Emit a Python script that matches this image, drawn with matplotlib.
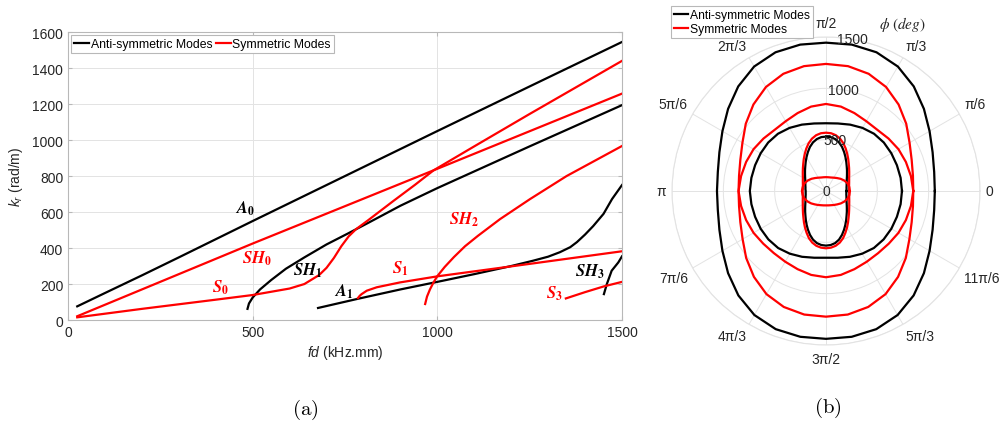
import numpy as np
import matplotlib
matplotlib.use("Agg")
import matplotlib.pyplot as plt
from matplotlib.lines import Line2D

plt.rcParams['font.family'] = ['Liberation Sans', 'DejaVu Sans']
plt.rcParams['mathtext.fontset'] = 'custom'
plt.rcParams['mathtext.rm'] = 'Liberation Sans'
plt.rcParams['mathtext.it'] = 'Liberation Sans:italic'
plt.rcParams['mathtext.bf'] = 'Liberation Sans:bold'

TXT = '#262626'
GRID = '#e3e3e3'
EDGE = '#b8b8b8'

# ---- (a) dispersion curves: fd (kHz.mm) vs k_r (rad/m) ----
a0_fd = [25, 100, 200, 300, 500, 750, 1000, 1250, 1500]
a0_k = [76, 150, 248, 348, 550, 800, 1050, 1298, 1545]

sh0_fd = [25, 500, 990, 1500]
sh0_k = [21, 425, 832, 1258]

s0_fd = [25, 200, 400, 500, 600, 640, 680, 700, 720, 740, 760, 780, 813,
         880, 940, 990, 1100, 1250, 1500]
s0_k = [15, 62, 113, 139, 175, 200, 250, 290, 345, 410, 465, 505, 555,
        660, 752, 832, 965, 1145, 1440]

sh1_fd = [486, 490, 500, 520, 550, 590, 640, 700, 760, 813, 900, 1000, 1250, 1500]
sh1_k = [62, 92, 125, 170, 222, 285, 348, 420, 483, 540, 635, 733, 965, 1194]

a1_fd = [677, 785, 900, 1000, 1100, 1200, 1260, 1300, 1332, 1360, 1378,
         1400, 1422, 1450, 1473, 1500]
a1_k = [67, 118, 170, 212, 255, 300, 330, 352, 377, 405, 433,
        475, 522, 590, 672, 750]

s1_fd = [785, 790, 795, 809, 836, 899, 1001, 1250, 1500]
s1_k = [122, 135, 144, 163, 182, 209, 243, 312, 382]

sh2_fd = [967, 972, 980, 990, 1000, 1020, 1045, 1075, 1110, 1170, 1251, 1350, 1500]
sh2_k = [89, 130, 170, 210, 244, 295, 350, 410, 468, 561, 672, 800, 967]

sh3_fd = [1451, 1459, 1472, 1490, 1500]
sh3_k = [144, 200, 274, 320, 354]

s3_fd = [1348, 1400, 1451, 1500]
s3_k = [120, 155, 187, 212]

# mode labels: (text, fd, k, colour)
mode_labels = [
    (r'$\mathbfit{A}_\mathbf{0}$', 479, 626, 'black'),
    (r'$\mathbfit{SH}_\mathbf{0}$', 511, 344, 'red'),
    (r'$\mathbfit{S}_\mathbf{0}$', 412, 186, 'red'),
    (r'$\mathbfit{SH}_\mathbf{1}$', 648, 279, 'black'),
    (r'$\mathbfit{A}_\mathbf{1}$', 746, 163, 'black'),
    (r'$\mathbfit{S}_\mathbf{1}$', 900, 290, 'red'),
    (r'$\mathbfit{SH}_\mathbf{2}$', 1072, 561, 'red'),
    (r'$\mathbfit{SH}_\mathbf{3}$', 1414, 274, 'black'),
    (r'$\mathbfit{S}_\mathbf{3}$', 1318, 152, 'red'),
]

# ---- (b) polar k_r(phi) ----
# outer curves: phi every 10 deg, 0..350
phi_10 = list(range(0, 360, 10))
outer_black = [1060, 1070, 1105, 1165, 1245, 1330, 1400, 1438, 1448, 1445,
               1448, 1438, 1400, 1330, 1245, 1165, 1105, 1070, 1062,
               1070, 1105, 1165, 1245, 1328, 1395, 1432, 1442, 1440,
               1442, 1432, 1395, 1328, 1245, 1165, 1105, 1070]
outer_red = [850, 860, 888, 940, 1020, 1100, 1170, 1215, 1235, 1238,
             1235, 1215, 1170, 1100, 1020, 940, 888, 860, 852,
             860, 888, 938, 1015, 1092, 1160, 1202, 1222, 1224,
             1222, 1202, 1160, 1092, 1015, 938, 888, 860]
wavy_red = [850, 840, 828, 815, 795, 778, 785, 808, 835, 848,
            835, 808, 785, 778, 795, 815, 828, 840, 852,
            840, 828, 815, 798, 790, 795, 810, 830, 840,
            830, 810, 795, 790, 798, 815, 828, 840]
inner_black = [740, 738, 735, 735, 735, 728, 710, 688, 668, 660,
               668, 688, 710, 728, 735, 735, 735, 738, 742,
               738, 735, 735, 733, 725, 705, 682, 660, 650,
               660, 682, 705, 725, 733, 735, 735, 738]
flat_red = [232, 230, 222, 205, 185, 165, 150, 140, 136, 135,
            136, 140, 150, 165, 185, 205, 222, 230, 235,
            230, 222, 206, 188, 170, 157, 147, 142, 140,
            142, 147, 157, 170, 188, 206, 222, 230]

# narrow tall curves: phi every 5 deg, 0..355
phi_5 = list(range(0, 360, 5))
tall_red = [225, 226, 228, 233, 240, 249, 260, 276, 295, 318, 345, 378, 415, 455, 495, 528, 552, 565, 568,
            565, 552, 528, 495, 455, 415, 378, 345, 318, 295, 276, 260, 249, 240, 233, 228, 226, 228,
            228, 230, 234, 241, 250, 261, 276, 294, 316, 342, 374, 410, 448, 488, 520, 542, 554, 558,
            554, 542, 520, 488, 448, 410, 374, 342, 316, 294, 276, 261, 250, 241, 234, 230, 228]
tall_black = [200, 201, 203, 208, 214, 223, 234, 249, 267, 289, 314, 345, 380, 418, 457, 490, 514, 527, 530,
              527, 514, 490, 457, 418, 380, 345, 314, 289, 267, 249, 234, 223, 214, 208, 203, 201, 198,
              199, 201, 206, 212, 221, 232, 247, 265, 287, 312, 343, 378, 416, 455, 490, 515, 528, 532,
              528, 515, 490, 455, 416, 378, 343, 312, 287, 265, 247, 232, 221, 212, 206, 201, 199]

theta_deg = list(range(0, 360, 30))
theta_labels = ['0', 'π/6', 'π/3', 'π/2', '2π/3', '5π/6', 'π',
                '7π/6', '4π/3', '3π/2', '5π/3', '11π/6']
r_ticks = [0, 500, 1000, 1500]


def closed(vals):
    return list(vals) + [vals[0]]


fig = plt.figure(figsize=(10, 4.35), dpi=100)

# ---------------- left panel ----------------
ax = fig.add_axes([0.068, 0.262, 0.554, 0.662])
black_curves = [(a0_fd, a0_k), (sh1_fd, sh1_k), (a1_fd, a1_k), (sh3_fd, sh3_k)]
red_curves = [(sh0_fd, sh0_k), (s0_fd, s0_k), (s1_fd, s1_k), (sh2_fd, sh2_k), (s3_fd, s3_k)]
for i, (x, y) in enumerate(black_curves):
    ax.plot(x, y, color='black', lw=1.6, label='Anti-symmetric Modes' if i == 0 else None)
for i, (x, y) in enumerate(red_curves):
    ax.plot(x, y, color='red', lw=1.6, label='Symmetric Modes' if i == 0 else None)

for txt, x, y, c in mode_labels:
    ax.text(x, y, txt, color=c, fontsize=12, ha='center', va='center', math_fontfamily='stix')

ax.set_xlim(0, 1500)
ax.set_ylim(0, 1600)
ax.set_xticks([0, 500, 1000, 1500])
ax.set_yticks(range(0, 1601, 200))
ax.grid(True, color=GRID, lw=0.7)
ax.set_axisbelow(True)
for s in ax.spines.values():
    s.set_color(EDGE)
    s.set_linewidth(0.8)
ax.tick_params(direction='in', length=3, color=EDGE, labelcolor=TXT, labelsize=10,
               top=True, right=True)
ax.set_xlabel(r'$fd$ (kHz.mm)', fontsize=10, color=TXT, labelpad=3)
ax.set_ylabel(r'$k_r$ (rad/m)', fontsize=10, color=TXT, labelpad=5)
leg = ax.legend(loc='upper left', ncol=2, fontsize=8.8, handlelength=1.2, handletextpad=0.15,
                columnspacing=0.3, borderpad=0.25, borderaxespad=0.25, fancybox=False,
                framealpha=1, edgecolor=EDGE)
leg.get_frame().set_linewidth(0.8)

fig.text(0.305, 1 - 410 / 435, r'$\mathrm{(a)}$', fontsize=15, ha='center', va='center',
         math_fontfamily='cm')

# ---------------- right panel ----------------
ax2 = fig.add_axes([0.672, 0.2046, 0.308, 0.708], projection='polar')
th10 = np.deg2rad(closed(phi_10))
th5 = np.deg2rad(closed(phi_5))
ax2.plot(th10, closed(outer_black), color='black', lw=1.6)
ax2.plot(th10, closed(inner_black), color='black', lw=1.6)
ax2.plot(th5, closed(tall_black), color='black', lw=1.6)
ax2.plot(th10, closed(outer_red), color='red', lw=1.6)
ax2.plot(th10, closed(wavy_red), color='red', lw=1.6)
ax2.plot(th5, closed(tall_red), color='red', lw=1.6)
ax2.plot(th10, closed(flat_red), color='red', lw=1.6)

ax2.set_ylim(0, 1500)
ax2.set_yticks(r_ticks)
ax2.set_yticklabels([])
ax2.set_xticks(np.deg2rad(theta_deg))
ax2.set_xticklabels([])
ax2.grid(True, color=GRID, lw=0.7)
ax2.spines['polar'].set_color(GRID)
ax2.spines['polar'].set_linewidth(0.8)

# angle labels anchored by their inner edge just outside the circle (MATLAB style)
for deg, lab in zip(theta_deg, theta_labels):
    c, s = np.cos(np.deg2rad(deg)), np.sin(np.deg2rad(deg))
    ha = 'left' if c > 0.1 else ('right' if c < -0.1 else 'center')
    va = 'bottom' if s > 0.1 else ('top' if s < -0.1 else 'center')
    r_lab = 1555
    if abs(c) < 0.1:
        va = 'center'
        r_lab = 1635
    ax2.text(np.deg2rad(deg), r_lab, lab, fontsize=10, color=TXT, ha=ha, va=va, clip_on=False)

for r in r_ticks:
    ax2.text(np.deg2rad(80), r, str(r), fontsize=10, color=TXT, ha='center', va='center',
             clip_on=False)

fig.text(0.9025, 1 - 25 / 435, r'$\phi\ (deg)$', fontsize=11, ha='center', va='center',
         math_fontfamily='stix', color=TXT)

handles = [Line2D([], [], color='black', lw=1.6), Line2D([], [], color='red', lw=1.6)]
leg2 = fig.legend(handles, ['Anti-symmetric Modes', 'Symmetric Modes'], loc='upper left',
                  bbox_to_anchor=(0.6707, 0.984), fontsize=8.7, handlelength=1.2,
                  handletextpad=0.15, borderpad=0.25, labelspacing=0.2, fancybox=False,
                  framealpha=1, edgecolor=EDGE, borderaxespad=0)
leg2.get_frame().set_linewidth(0.8)

fig.text(0.828, 1 - 408 / 435, r'$\mathrm{(b)}$', fontsize=15, ha='center', va='center',
         math_fontfamily='cm')

fig.savefig('out.png', dpi=100)
